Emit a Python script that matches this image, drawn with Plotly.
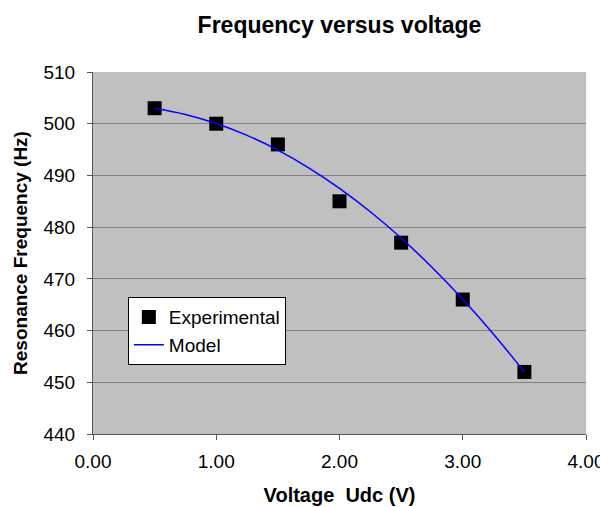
import plotly.graph_objects as go

exp_voltage = [0.5, 1.0, 1.5, 2.0, 2.5, 3.0, 3.5]
exp_freq = [503, 500, 496, 485, 477, 466, 452]

model_voltage = [0.5, 0.75, 1.0, 1.25, 1.5, 1.75, 2.0, 2.25, 2.5, 2.75, 3.0, 3.25, 3.5]
model_freq = [503.0, 501.8, 500.05, 497.75, 494.9, 491.47, 487.5, 482.97, 477.9, 472.25, 466.05, 459.3, 452.0]

x_ticks = [0, 1, 2, 3, 4]
x_tick_labels = ["0.00", "1.00", "2.00", "3.00", "4.00"]
y_ticks = [440, 450, 460, 470, 480, 490, 500, 510]

fig = go.Figure()
fig.add_trace(go.Scatter(x=exp_voltage, y=exp_freq, mode="markers", name="Experimental",
                         marker=dict(symbol="square", size=14, color="black")))
fig.add_trace(go.Scatter(x=model_voltage, y=model_freq, mode="lines", name="Model",
                         line=dict(color="#0000ff", width=1.5, shape="spline")))

font = "Liberation Sans, Arial, sans-serif"
fig.update_layout(
    width=608, height=507,
    margin=dict(l=84, r=29, t=64, b=81),
    paper_bgcolor="white", plot_bgcolor="#c0c0c0",
    font=dict(family=font, size=19, color="black"),
    title=dict(text="<b>Frequency versus voltage</b>", x=0.5, xref="paper", xanchor="center",
               y=1 - 17 / 507, yanchor="middle", font=dict(size=23)),
    showlegend=True,
    legend=dict(x=0.0707, y=0.378, xanchor="left", yanchor="top", bgcolor="white",
                bordercolor="black", borderwidth=1, font=dict(size=19),
                tracegroupgap=0, itemwidth=30),
    xaxis=dict(range=[0, 4], tickvals=x_ticks, ticktext=x_tick_labels, showgrid=False,
               zeroline=False, showline=True, linecolor="#555555", linewidth=1,
               ticks="outside", ticklen=5, tickcolor="#555555", tickfont=dict(size=19),
               ticklabelstandoff=5,
               title=dict(text="<b>Voltage&nbsp; Udc (V)</b>", font=dict(size=20), standoff=17)),
    yaxis=dict(range=[440, 510], tickvals=y_ticks, showgrid=True, gridcolor="#808080", gridwidth=1,
               zeroline=False, showline=True, linecolor="#555555", linewidth=1,
               ticks="outside", ticklen=5, tickcolor="#555555", tickfont=dict(size=19),
               ticklabelstandoff=8,
               title=dict(text="<b>Resonance Frequency (Hz)</b>", font=dict(size=19), standoff=10)),
)

fig.write_html("out.html")
